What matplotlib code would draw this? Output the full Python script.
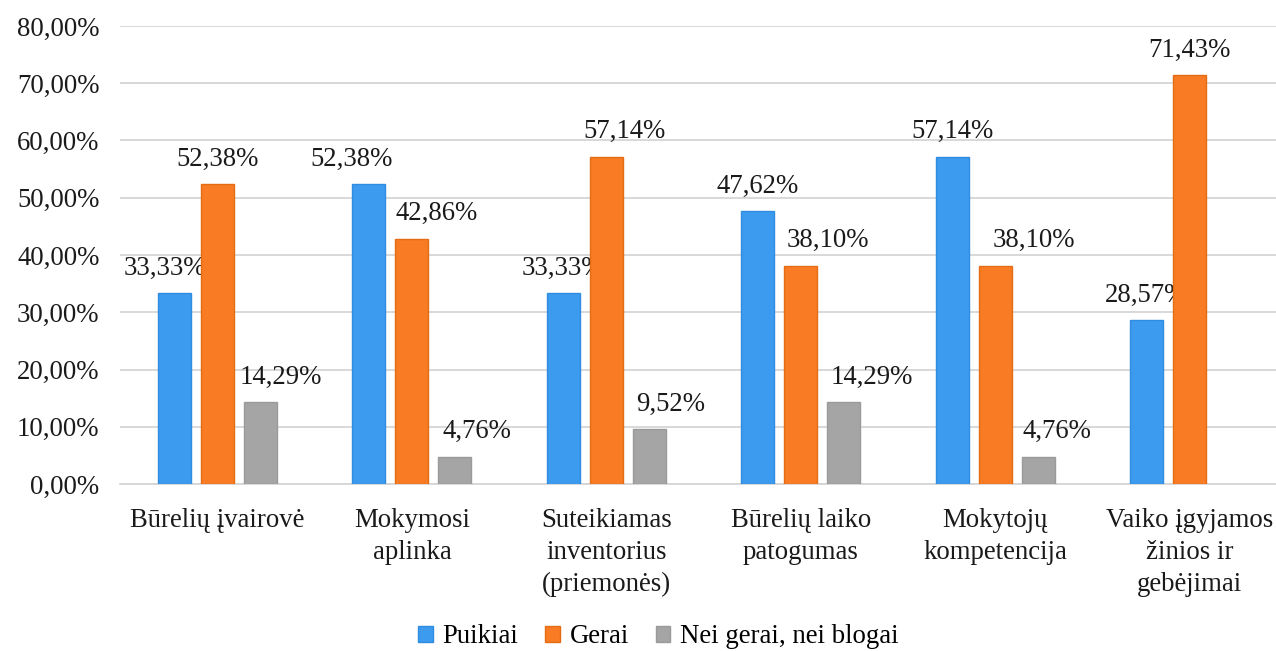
import numpy as np
import matplotlib.pyplot as plt
from matplotlib.ticker import FuncFormatter

# duomenys
kategorijos = ["Būrelių įvairovė", "Mokymosi\naplinka", "Suteikiamas\ninventorius\n(priemonės)",
               "Būrelių laiko\npatogumas", "Mokytojų\nkompetencija", "Vaiko įgyjamos\nžinios ir\ngebėjimai"]
serijos = ["Puikiai", "Gerai", "Nei gerai, nei blogai"]
puikiai = [33.33, 52.38, 33.33, 47.62, 57.14, 28.57]
gerai = [52.38, 42.86, 57.14, 38.10, 38.10, 71.43]
nei_gerai = [14.29, 4.76, 9.52, 14.29, 4.76, np.nan]
y_ticks = [0, 10, 20, 30, 40, 50, 60, 70, 80]

# stilius
spalvos = ["#3d9bef", "#f97c24", "#a5a5a5"]
krastai = ["#2f8ce0", "#e46c14", "#9a9a9a"]
# etikeciu poslinkis horizontaliai (px), kaip originale
poslinkiai = [[-10, -17, 0, 0, 0, 0],
              [0, 25, 18, 27, 39, 0],
              [20, 22, 21, 28, 19, 0]]

plt.rcParams['font.family'] = ['Liberation Serif', 'DejaVu Serif']
fs = 19.3

fig = plt.figure(figsize=(12.76, 6.51), dpi=100)
ax = fig.add_axes([120.3 / 1276, 1 - 484 / 651, 1166.4 / 1276, 458 / 651])

x = np.arange(len(kategorijos))
plotis = 0.17
tarpas = 0.221
visi = [puikiai, gerai, nei_gerai]
for i, reiksmes in enumerate(visi):
    pos = x + (i - 1) * tarpas
    ax.bar(pos, reiksmes, width=plotis, color=spalvos[i], edgecolor=krastai[i],
           linewidth=1, label=serijos[i], zorder=3)
    for j, v in enumerate(reiksmes):
        if np.isnan(v):
            continue
        ax.annotate(f"{v:.2f}%".replace('.', ','), (pos[j], v),
                    xytext=(poslinkiai[i][j] * 0.72, 9), textcoords='offset points',
                    ha='center', va='bottom', fontsize=fs, color='#1a1a1a')

ax.set_xlim(-0.5, len(kategorijos) - 0.5)
ax.set_ylim(0, 80)
ax.set_yticks(y_ticks)
ax.yaxis.set_major_formatter(FuncFormatter(lambda v, p: f"{v:.2f}%".replace('.', ',')))
ax.set_xticks(x)
ax.set_xticklabels(kategorijos, linespacing=1.38)
ax.tick_params(axis='both', length=0, labelsize=fs, colors='#1a1a1a')
ax.tick_params(axis='y', pad=15)
ax.tick_params(axis='x', pad=17)

ax.grid(axis='y', color='#d6d6d6', linewidth=1.3, zorder=0)
for s in ['top', 'right', 'left']:
    ax.spines[s].set_visible(False)
ax.spines['bottom'].set_color('#d6d6d6')
ax.spines['bottom'].set_linewidth(1.3)

fig.legend(loc='center', bbox_to_anchor=(0.516, 0.022), ncol=3, frameon=False,
           fontsize=fs, handlelength=0.55, handleheight=0.55, handletextpad=0.35,
           columnspacing=1.0, borderpad=0)

fig.savefig("out.png", dpi=100)
